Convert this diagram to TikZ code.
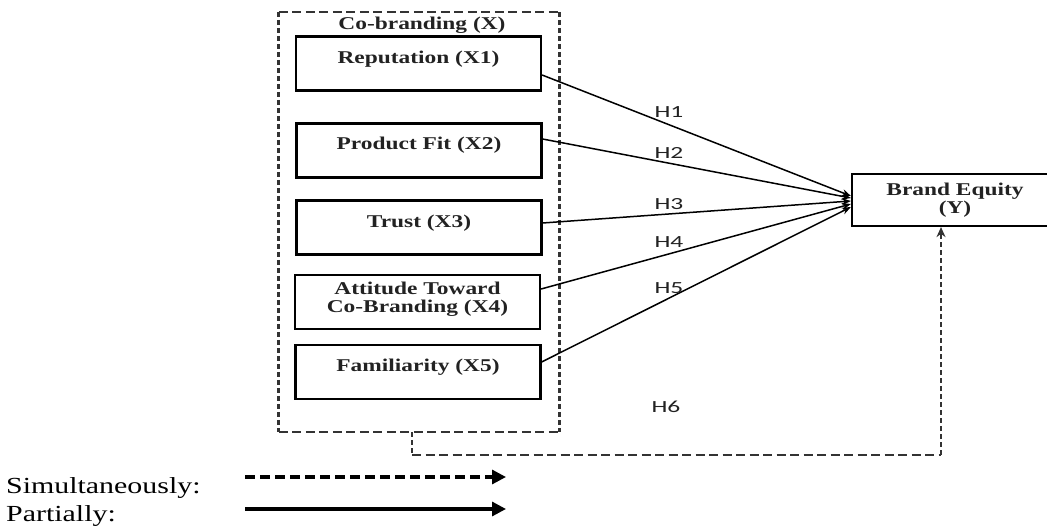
\documentclass[tikz,border=0pt]{standalone}
\usepackage{fontspec}
\setmainfont{Liberation Serif}[FakeStretch=1.3]
\newfontfamily\hfont{Carlito}[FakeStretch=1.5]
\usetikzlibrary{arrows.meta,calc}
\definecolor{ink}{HTML}{222222}
\definecolor{dline}{HTML}{333333}
\begin{document}
\begin{tikzpicture}[x=1pt,y=-1pt,
  varbox/.style={draw=black, line width=2.2pt, minimum width=245pt, minimum height=54pt, inner sep=0pt},
  boxtext/.style={text=ink, font=\fontsize{18}{18}\selectfont\bfseries, align=center, inner sep=0pt},
  grpbox/.style={minimum width=280pt, minimum height=420pt, inner sep=0pt},
  hdash/.style={draw=dline, line width=2.2pt, dash pattern=on 9pt off 4.5pt},
  vdash/.style={draw=dline, line width=2.8pt, dash pattern=on 5pt off 3pt},
  hyp/.style={draw=black, line width=1.5pt, -{Stealth[length=9pt,width=7pt]}},
  hlabel/.style={text=ink, font=\hfont\fontsize{17}{17}\selectfont, inner sep=0pt},
  legtext/.style={text=black, font=\fontsize{23}{23}\selectfont\mdseries, anchor=base west, inner sep=0pt},
  legsim/.style={draw=black, line width=3.2pt, dash pattern=on 10pt off 5pt, -{Triangle[length=14pt,width=14pt]}},
  legpar/.style={draw=black, line width=3.2pt, -{Triangle[length=14pt,width=14pt]}}
]
\useasboundingbox (0,0) rectangle (1047,529);
\clip (0,0) rectangle (1047,529);

% group box
\node[grpbox] (grp) at (419,222) {};
\draw[hdash] (grp.north west) -- (grp.north east);
\draw[hdash] (grp.south west) -- (grp.south east);
\draw[vdash] (grp.north west) -- (grp.south west);
\draw[vdash] (grp.north east) -- (grp.south east);
\node[boxtext] (gtitle) at (422,25) {Co-branding (X)};

% variable boxes
\node[varbox] (b1) at (418.5,63.5) {};
\node[boxtext] (t1) at ([yshift=4pt]b1.center) {Reputation (X1)};
\node[varbox] (b2) at (419,150.5) {};
\node[boxtext] (t2) at ([yshift=5pt]b2.center) {Product Fit (X2)};
\node[varbox] (b3) at (419,227.5) {};
\node[boxtext] (t3) at ([yshift=4.5pt]b3.center) {Trust (X3)};
\node[varbox] (b4) at (417.5,302) {};
\node[boxtext] (t4) at ([yshift=3pt]b4.center) {Attitude Toward\\Co-Branding (X4)};
\node[varbox] (b5) at (418,372) {};
\node[boxtext] (t5) at ([yshift=5pt]b5.center) {Familiarity (X5)};

% dependent
\node[varbox, minimum width=206pt, minimum height=52pt, boxtext, draw=black, line width=2.2pt] (be) at (955,200) {Brand Equity\\(Y)};

% partial hypotheses
\draw[hyp] ([yshift=-11.5pt]b1.east) -- ([yshift=4pt]be.west);
\draw[hyp] ([yshift=11.5pt]b2.east) -- ([yshift=2pt]be.west);
\draw[hyp] ([yshift=4.5pt]b3.east) -- ([yshift=-1pt]be.west);
\draw[hyp] ([yshift=13pt]b4.east) -- ([yshift=-4pt]be.west);
\draw[hyp] ([yshift=10pt]b5.east) -- ([yshift=-7pt]be.west);

\node[hlabel] (h1) at (669,112) {H1};
\node[hlabel] (h2) at (669,153) {H2};
\node[hlabel] (h3) at (669,204) {H3};
\node[hlabel] (h4) at (669,242) {H4};
\node[hlabel] (h5) at (669,288) {H5};
\node[hlabel] (h6) at (666,407) {H6};

% simultaneous hypothesis
\coordinate (c0) at ([xshift=-7pt]grp.south);
\coordinate (c3) at ([xshift=-14pt]be.south);
\coordinate (c1) at ($(c0)+(0,23)$);
\coordinate (c2) at (c1 -| c3);
\draw[vdash] (c0) -- (c1);
\draw[hdash] (c1) -- (c2);
\draw[vdash, -{Stealth[length=10pt,width=9pt]}] (c2) -- (c3);

% legend
\node[legtext] (sim) at (6,493) {Simultaneously:};
\node[legtext] (par) at (6,521) {Partially:};
\coordinate (s1) at (245,477);
\coordinate (s2) at (506,477);
\coordinate (p1) at (245,509);
\coordinate (p2) at (506,509);
\draw[legsim] (s1) -- (s2);
\draw[legpar] (p1) -- (p2);
\end{tikzpicture}
\end{document}
